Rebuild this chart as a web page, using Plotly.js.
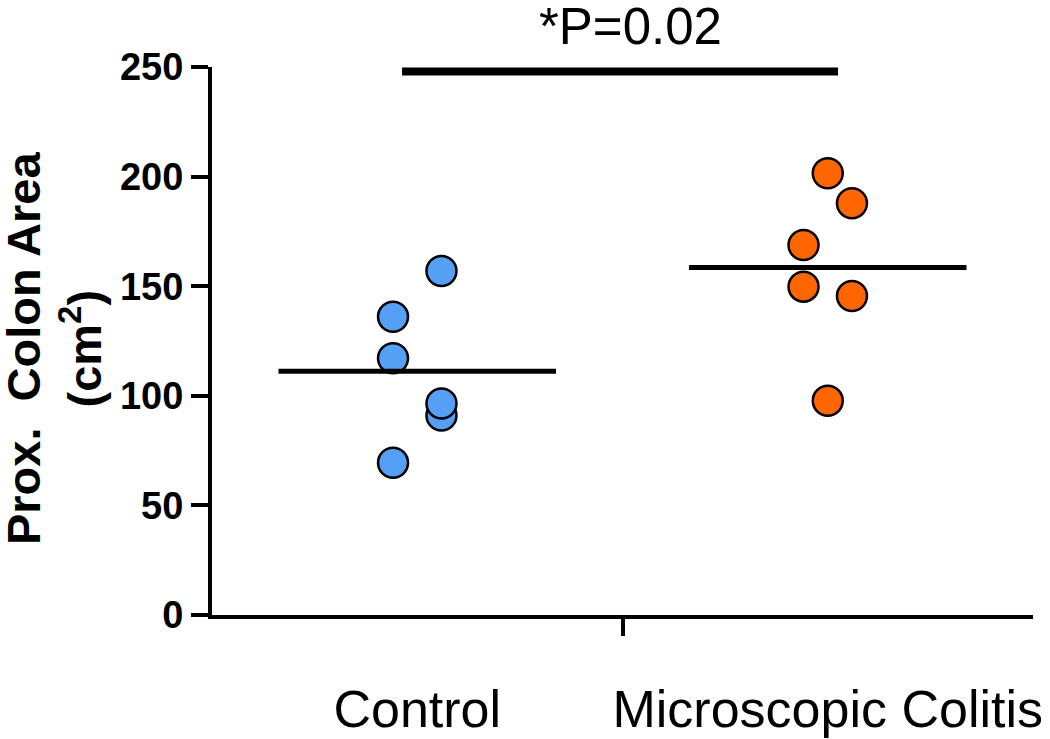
<!DOCTYPE html>
<html>
<head>
<meta charset="utf-8">
<script src="https://cdn.plot.ly/plotly-3.0.1.min.js"></script>
<style>html,body{margin:0;padding:0;background:#fff;}#chart{width:1050px;height:739px;}</style>
</head>
<body>
<div id="chart"></div>
<script>
// ---- data ----
const categories = ["Control", "Microscopic Colitis"];
const controlValues = [156.9, 136.1, 117.1, 69.5, 91.0, 96.5];
const controlJitter = [1, -1, -1, -1, 1, 1];       // column side of each dot
const colitisValues = [201.5, 187.8, 168.8, 149.8, 145.5, 97.7];
const colitisJitter = [0, 1, -1, -1, 1, 0];
const yTickValues = [0, 50, 100, 150, 200, 250];
const yTitleText = "Prox.&nbsp; Colon Area<br>(cm<sup>2</sup>)";
const pValueText = "*P=0.02";
const comparisonLevel = 248;

// ---- styling ----
const FONT = "Arial, 'Liberation Sans', sans-serif";
const blue = "#559FF5";
const orange = "#FF6600";
const jitterStep = 0.059;
const meanHalfWidth = 0.338;

const mean = a => a.reduce((s, v) => s + v, 0) / a.length;
const pos = (col, jit) => jit.map(j => col + j * jitterStep);

const ctrlX = 1, colX = 2;

const traces = [
  {
    type: "scatter", mode: "markers",
    x: pos(ctrlX, controlJitter), y: controlValues,
    marker: {size: 30, color: blue, line: {color: "#000", width: 2.5}},
    cliponaxis: false, hoverinfo: "y", showlegend: false
  },
  {
    type: "scatter", mode: "markers",
    x: pos(colX, colitisJitter), y: colitisValues,
    marker: {size: 30, color: orange, line: {color: "#000", width: 2.5}},
    cliponaxis: false, hoverinfo: "y", showlegend: false
  },
  {
    type: "scatter", mode: "lines",
    x: [ctrlX - meanHalfWidth, ctrlX + meanHalfWidth],
    y: [mean(controlValues), mean(controlValues)],
    line: {color: "#000", width: 5}, cliponaxis: false, hoverinfo: "skip", showlegend: false
  },
  {
    type: "scatter", mode: "lines",
    x: [colX - meanHalfWidth, colX + meanHalfWidth],
    y: [mean(colitisValues), mean(colitisValues)],
    line: {color: "#000", width: 5}, cliponaxis: false, hoverinfo: "skip", showlegend: false
  },
  {
    type: "scatter", mode: "lines",
    x: [ctrlX - 0.037, colX + 0.025],
    y: [comparisonLevel, comparisonLevel],
    line: {color: "#000", width: 8}, cliponaxis: false, hoverinfo: "skip", showlegend: false
  }
];

const layout = {
  width: 1050, height: 739,
  margin: {l: 212, r: 17, t: 67, b: 124},
  paper_bgcolor: "#fff", plot_bgcolor: "#fff",
  font: {family: FONT, color: "#000"},
  showlegend: false,
  xaxis: {
    range: [0.5, 2.5],
    showgrid: false, zeroline: false,
    showline: true, linecolor: "#000", linewidth: 4,
    tickmode: "array", tickvals: [ctrlX, colX], ticktext: categories,
    ticks: "", ticklabelstandoff: 46,
    tickfont: {family: FONT, size: 52, color: "#000"},
    minor: {tickmode: "array", tickvals: [(ctrlX + colX) / 2], ticks: "outside", ticklen: 17, tickwidth: 4, tickcolor: "#000", showgrid: false},
    fixedrange: true
  },
  yaxis: {
    range: [0, 250],
    showgrid: false, zeroline: false,
    showline: true, linecolor: "#000", linewidth: 4,
    tickmode: "array", tickvals: yTickValues,
    ticks: "outside", ticklen: 17, tickwidth: 4, tickcolor: "#000",
    tickfont: {family: FONT, size: 38, color: "#000", weight: "bold"},
    automargin: false,
    fixedrange: true
  },
  annotations: [
    {
      text: pValueText, xref: "x", yref: "y",
      x: 1.52, y: comparisonLevel, xanchor: "center", yanchor: "bottom",
      yshift: 14, showarrow: false,
      font: {family: FONT, size: 51, color: "#000"}
    },
    {
      text: yTitleText, xref: "paper", yref: "paper",
      x: -0.1924, y: 0.4854, xanchor: "center", yanchor: "middle",
      textangle: -90, showarrow: false, align: "center",
      font: {family: FONT, size: 47, color: "#000", weight: "bold"}
    }
  ]
};

Plotly.newPlot("chart", traces, layout, {staticPlot: true, displayModeBar: false});
</script>
</body>
</html>
